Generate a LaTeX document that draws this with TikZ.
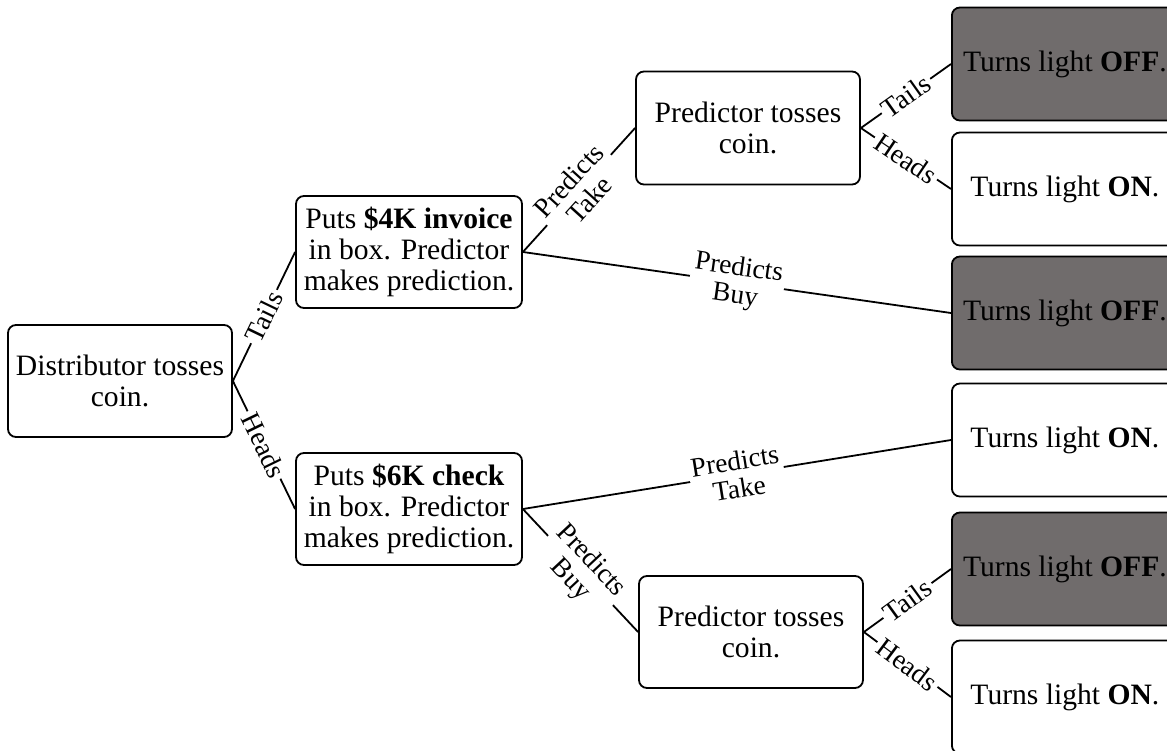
\documentclass[tikz,border=0pt]{standalone}
\usepackage{fontspec}
\setmainfont{Liberation Serif}
\definecolor{offgray}{RGB}{112,108,108}
\begin{document}
\begin{tikzpicture}[x=1pt,y=-1pt,
  box/.style={draw, line width=1.8pt, rounded corners=8pt, align=center, inner sep=0pt, font=\fontsize{29.6}{31}\selectfont},
  mid/.style={box, minimum width=226pt, minimum height=112pt},
  leaf/.style={box, minimum width=226pt, minimum height=113pt, anchor=west},
  off/.style={fill=offgray},
  lbl/.style={midway, sloped, fill=white, inner sep=3pt, align=center, font=\fontsize{27.5}{28}\selectfont},
  conn/.style={line width=1.8pt}]
\clip (0,0) rectangle (1167,750);
\fill[white] (0,0) rectangle (1167,750);
% main nodes
\node[mid, minimum width=224pt] (root) at (120,381) {Distributor tosses\\coin.};
\node[mid] (inv) at (409,252) {Puts \textbf{\$4K invoice}\\in box. Predictor\\makes prediction.};
\node[mid] (chk) at (409,509) {Puts \textbf{\$6K check}\\in box. Predictor\\makes prediction.};
\node[mid, minimum width=224pt, minimum height=113pt] (pu) at (748,128) {Predictor tosses\\coin.};
\node[mid, minimum width=224pt] (pl) at (751,632) {Predictor tosses\\coin.};
% leaves
\node[leaf, off] (l1) at (951,64) {Turns light \textbf{OFF}.};
\node[leaf] (l2) at (951,189) {Turns light \textbf{ON}.};
\node[leaf, off] (l3) at (951,313) {Turns light \textbf{OFF}.};
\node[leaf] (l4) at (951,440) {Turns light \textbf{ON}.};
\node[leaf, off] (l5) at (951,569) {Turns light \textbf{OFF}.};
\node[leaf] (l6) at (951,697) {Turns light \textbf{ON}.};
% connectors
\draw[conn] (root.east) -- node[lbl] {Tails} (inv.west);
\draw[conn] (root.east) -- node[lbl] {Heads} (chk.west);
\draw[conn] (inv.east) -- node[lbl] {Predicts\\Take} (pu.west);
\draw[conn] (inv.east) -- node[lbl] {Predicts\\Buy} (l3.west);
\draw[conn] (chk.east) -- node[lbl] {Predicts\\Take} (l4.west);
\draw[conn] (chk.east) -- node[lbl] {Predicts\\Buy} (pl.west);
\draw[conn] (pu.east) -- node[lbl] {Tails} (l1.west);
\draw[conn] (pu.east) -- node[lbl] {Heads} (l2.west);
\draw[conn] (pl.east) -- node[lbl] {Tails} (l5.west);
\draw[conn] (pl.east) -- node[lbl] {Heads} (l6.west);
\end{tikzpicture}
\end{document}
